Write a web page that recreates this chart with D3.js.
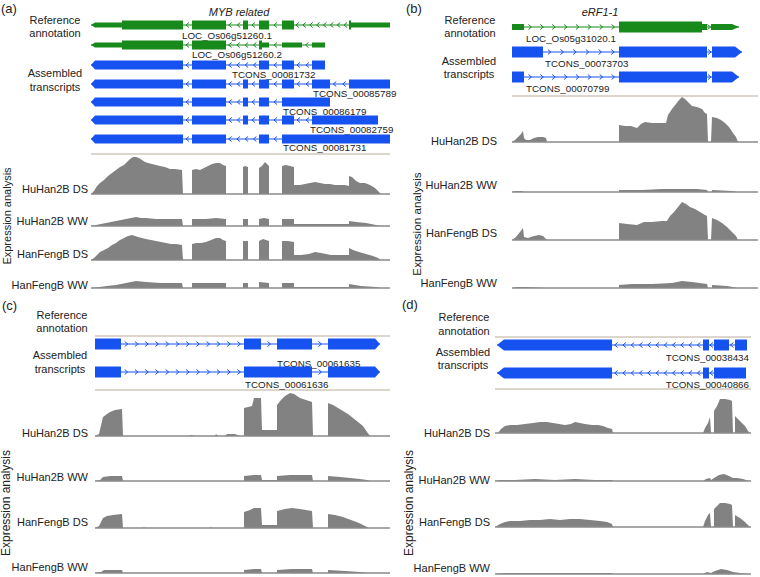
<!DOCTYPE html>
<html><head><meta charset="utf-8">
<script src="https://cdn.jsdelivr.net/npm/d3@7"></script>
<style>
body{margin:0;background:#fff}
svg{display:block}
text{font-family:"Liberation Sans",Arial,sans-serif;fill:#222}
</style>
</head><body>
<svg id="chart" width="760" height="577"></svg>
<script>
// ---------------- DATA ----------------
const panelLetters = ["(a)", "(b)", "(c)", "(d)"];
const geneTitles = ["MYB related", "eRF1-1", "", ""];
const trackLabels = ["HuHan2B DS", "HuHan2B WW", "HanFengB DS", "HanFengB WW"];
const refLabel = ["Reference", "annotation"];
const asmLabel = ["Assembled", "transcripts"];
const axisTitle = "Expression analysis";

// transcripts: exons as [start, end, kind] in relative genomic units
const transcriptsA = [
  {name: "LOC_Os06g51260.1", source: "ref", strand: -1, labelAt: 91,
   exons: [[0,31,"utr"],[31,92,"cds"],[101,135,"cds"],[152,157,"cds"],[168,178,"cds"],[191,203,"cds"],[258,260,"cds"],[260,299,"utr"]]},
  {name: "LOC_Os06g51260.2", source: "ref", strand: -1, labelAt: 101,
   exons: [[0,31,"utr"],[31,92,"cds"],[101,135,"cds"],[168,171,"cds"],[171,178,"utr"],[191,211,"utr"],[221,234,"utr"]]},
  {name: "TCONS_00081732", source: "asm", strand: -1, labelAt: 141,
   exons: [[0,92,"cds"],[101,135,"cds"],[168,178,"cds"],[191,203,"cds"],[221,234,"cds"]]},
  {name: "TCONS_00085789", source: "asm", strand: -1, labelAt: 222,
   exons: [[0,92,"cds"],[101,135,"cds"],[152,157,"cds"],[168,178,"cds"],[191,203,"cds"],[221,239,"cds"],[258,299,"cds"]]},
  {name: "TCONS_00086179", source: "asm", strand: -1, labelAt: 192,
   exons: [[0,92,"cds"],[101,135,"cds"],[152,157,"cds"],[168,178,"cds"],[191,239,"cds"]]},
  {name: "TCONS_00082759", source: "asm", strand: -1, labelAt: 219,
   exons: [[0,92,"cds"],[101,135,"cds"],[152,157,"cds"],[168,178,"cds"],[191,203,"cds"],[221,287,"cds"]]},
  {name: "TCONS_00081731", source: "asm", strand: -1, labelAt: 192,
   exons: [[0,92,"cds"],[101,135,"cds"],[168,178,"cds"],[191,299,"cds"]]}
];
const transcriptsB = [
  {name: "LOC_Os05g31020.1", source: "ref", strand: 1, labelAt: 14,
   exons: [[0,12,"utr"],[107,190,"cds"],[190,195,"utr"],[199,227,"utr"]]},
  {name: "TCONS_00073703", source: "asm", strand: 1, labelAt: 33,
   exons: [[0,31,"cds"],[107,195,"cds"],[200,230,"cds"]]},
  {name: "TCONS_00070799", source: "asm", strand: 1, labelAt: 14,
   exons: [[0,12,"cds"],[107,195,"cds"],[200,227,"cds"]]}
];
const transcriptsC = [
  {name: "TCONS_00061635", source: "asm", strand: 1, labelAt: 182,
   exons: [[0,26,"cds"],[149,166,"cds"],[182,217,"cds"],[233,285,"cds"]]},
  {name: "TCONS_00061636", source: "asm", strand: 1, labelAt: 150,
   exons: [[0,26,"cds"],[149,217,"cds"],[233,285,"cds"]]}
];
const transcriptsD = [
  {name: "TCONS_00038434", source: "asm", strand: -1, labelAt: 254,
   exons: [[2,117,"cds"],[208,214,"cds"],[219,234,"cds"],[240,252,"cds"]]},
  {name: "TCONS_00040866", source: "asm", strand: -1, labelAt: 254,
   exons: [[2,117,"cds"],[208,214,"cds"],[219,251,"cds"]]}
];

// coverage: [position, depth]
const covA_HuDS = [[0,0],[3,3],[6,8],[9,11],[13,14],[17,18],[21,21],[25,24],[29,27],[33,29],[36,32],[39,35],[42,37],[45,37],[48,36],[51,34],[54,32],[57,31],[61,30],[65,29],[69,28],[74,27],[79,25],[84,25],[91,24],[92,0],[101,0],[101,24],[105,25],[109,24],[113,26],[117,28],[121,30],[125,31],[129,31],[132,29],[135,28],[135,0],[152,0],[152,27],[154,28],[157,27],[157,0],[168,0],[168,26],[171,28],[174,32],[176,30],[178,28],[178,0],[191,0],[191,28],[195,29],[199,28],[203,27],[203,9],[209,9],[214,10],[219,11],[224,12],[229,11],[234,10],[239,10],[244,9],[249,9],[254,9],[258,8],[258,18],[261,17],[265,13],[269,11],[274,11],[279,9],[284,6],[288,2],[290,0]];
const covA_HuWW = [[0,0],[5,1],[10,2],[15,3],[20,4],[25,5],[30,6],[35,7],[40,8],[45,9],[50,8],[55,8],[65,7],[80,7],[91,7],[92,0],[101,0],[101,7],[115,7],[125,8],[135,7],[135,0],[152,0],[152,7],[157,7],[157,0],[168,0],[168,7],[173,8],[178,7],[178,0],[191,0],[191,7],[203,7],[203,2],[230,2],[258,2],[258,5],[265,4],[275,3],[285,1],[290,0]];
const covA_HfDS = [[0,0],[3,2],[6,5],[9,8],[13,10],[17,12],[21,15],[25,17],[29,20],[33,22],[37,24],[41,25],[44,24],[47,23],[51,22],[55,21],[60,20],[65,19],[70,18],[75,17],[80,16],[85,16],[91,15],[92,0],[101,0],[101,16],[105,17],[110,17],[115,18],[120,20],[125,22],[129,22],[132,20],[135,19],[135,0],[152,0],[152,19],[157,19],[157,0],[168,0],[168,19],[172,21],[175,20],[178,19],[178,0],[191,0],[191,19],[197,19],[203,18],[203,5],[210,5],[218,6],[224,8],[230,7],[240,5],[250,5],[258,5],[258,12],[262,10],[268,8],[275,6],[282,4],[287,2],[290,0]];
const covA_HfWW = [[0,0],[8,1],[16,2],[25,3],[35,5],[45,7],[55,6],[70,5],[91,5],[92,0],[101,0],[101,5],[135,5],[135,0],[152,0],[152,5],[157,5],[157,0],[168,0],[168,6],[178,5],[178,0],[191,0],[191,5],[203,5],[203,1],[258,1],[258,4],[270,2],[285,1],[290,0]];

const covB_HuDS = [[0,0],[3,2],[6,5],[9,8],[11,11],[12,4],[14,2],[18,2],[22,4],[26,5],[31,5],[34,4],[35,0],[107,0],[107,17],[113,16],[119,16],[125,14],[129,18],[133,20],[140,19],[148,19],[154,19],[156,27],[160,33],[164,38],[167,42],[170,45],[173,43],[176,40],[180,36],[185,35],[190,33],[193,29],[195,28],[196,0],[199,0],[200,25],[205,24],[209,22],[213,19],[217,15],[221,9],[224,5],[226,0]];
const covB_HuWW = [[0,0],[4,1],[10,1],[12,0],[35,0],[107,0],[107,2],[130,2],[150,3],[170,3],[185,3],[195,2],[196,0],[200,0],[200,2],[220,1],[226,0]];
const covB_HfDS = [[0,0],[4,3],[8,8],[11,12],[12,3],[16,2],[22,4],[27,5],[31,4],[35,0],[107,0],[107,17],[115,16],[125,15],[132,18],[140,18],[150,19],[155,19],[158,24],[162,28],[166,33],[170,38],[174,36],[178,33],[183,31],[188,28],[193,25],[195,24],[196,0],[199,0],[200,22],[205,20],[210,17],[215,13],[220,8],[224,4],[226,0]];
const covB_HfWW = [[0,0],[5,1],[12,1],[35,0],[107,0],[107,3],[120,4],[140,4],[160,5],[170,7],[180,6],[195,4],[196,0],[200,0],[200,3],[215,2],[226,0]];

const covC_HuDS = [[0,0],[4,2],[8,19],[12,22],[15,24],[20,26],[27,27],[28,0],[95,0],[96,1],[100,0],[120,0],[121,2],[123,0],[130,0],[132,2],[140,2],[145,0],[149,0],[149,28],[153,29],[157,30],[159,38],[166,38],[167,6],[182,6],[182,31],[186,36],[190,40],[195,43],[199,42],[205,38],[211,36],[217,34],[218,0],[233,0],[233,33],[238,31],[243,28],[248,25],[253,22],[258,18],[263,14],[268,10],[272,4],[275,0]];
const covC_HuWW = [[0,0],[5,1],[8,4],[15,5],[27,5],[28,0],[149,0],[149,5],[159,6],[166,6],[167,1],[182,1],[182,5],[195,6],[205,6],[217,6],[218,0],[233,0],[233,5],[245,4],[255,3],[265,2],[272,1],[275,0]];
const covC_HfDS = [[0,0],[4,2],[8,10],[12,12],[18,13],[27,14],[28,0],[48,0],[49,1],[50,0],[115,0],[116,1],[117,0],[149,0],[149,16],[155,18],[159,20],[166,20],[167,3],[182,3],[182,17],[190,19],[197,20],[205,19],[211,18],[217,17],[218,0],[233,0],[233,14],[240,13],[248,11],[256,8],[264,5],[270,2],[274,0]];
const covC_HfWW = [[0,0],[6,1],[9,3],[27,3],[28,0],[149,0],[149,3],[159,4],[166,4],[167,0],[182,0],[182,3],[197,4],[217,4],[218,0],[233,0],[233,3],[250,2],[265,1],[274,0]];

const covD_HuDS = [[0,0],[3,0],[6,4],[10,7],[15,8],[22,8],[30,9],[38,10],[45,11],[52,11],[58,10],[64,9],[70,8],[76,9],[80,11],[85,10],[90,9],[97,8],[103,8],[108,7],[113,5],[117,4],[118,0],[208,0],[210,5],[213,10],[215,16],[216,0],[219,0],[219,22],[222,27],[225,34],[230,34],[235,33],[237,32],[238,0],[240,0],[240,17],[245,12],[250,7],[253,2],[255,0]];
const covD_HuWW = [[0,0],[5,1],[20,1],[40,2],[60,1],[80,2],[100,1],[117,1],[118,0],[208,0],[211,2],[215,3],[216,1],[219,3],[224,6],[229,7],[234,5],[238,3],[242,3],[248,2],[254,0]];
const covD_HfDS = [[0,0],[5,3],[10,5],[15,6],[25,6],[35,7],[45,7],[55,8],[65,7],[75,8],[85,8],[95,7],[105,6],[112,5],[117,3],[118,0],[208,0],[210,6],[213,12],[215,14],[216,0],[219,0],[219,18],[222,21],[225,24],[230,24],[235,23],[237,22],[238,0],[240,0],[240,12],[245,9],[250,5],[253,2],[255,0]];
const covD_HfWW = [[0,0],[10,1],[60,1],[117,1],[118,0],[208,0],[212,2],[216,1],[220,3],[226,5],[232,4],[238,2],[245,1],[254,0]];

const transcriptSets = [transcriptsA, transcriptsB, transcriptsC, transcriptsD];
const coverageSets = [
  [covA_HuDS, covA_HuWW, covA_HfDS, covA_HfWW],
  [covB_HuDS, covB_HuWW, covB_HfDS, covB_HfWW],
  [covC_HuDS, covC_HuWW, covC_HfDS, covC_HfWW],
  [covD_HuDS, covD_HuWW, covD_HfDS, covD_HfWW]
];
const genomicSpans = [[0, 299], [0, 246], [0, 295], [0, 256]];
const depthDomain = [0, 50];

// ---------------- LAYOUT ----------------
const layouts = [
  {x: [91, 390], letter: [1, 8], title: [239, 12], ref: [55, 20, 33], asm: [55, 73, 87],
   rowY: [25, 45, 65, 84, 102, 120, 139], labY: [35, 54, 74, 93, 111, 129, 147], labAnchor: "start",
   cdsH: 9, utrH: 5, tip: 4, chev: 6.7, seps: [154],
   base: [194, 226, 260, 288], trackLabY: [189, 221, 254, 285], trackLabX: 88,
   expr: [11, 216, 11]},
  {x: [512, 758], letter: [406, 8], title: [600, 12], ref: [470, 20, 33], asm: [469, 61, 74],
   rowY: [27, 52, 77], labY: [38, 63, 88], labAnchor: "start",
   cdsH: 11, utrH: 6, tip: 7, chev: 11.7, seps: [96],
   base: [142, 192, 240, 288], trackLabY: [141, 185, 233, 283], trackLabX: 497,
   expr: [421, 224, 11.7]},
  {x: [95, 390], letter: [2, 305], title: [0, 0], ref: [62, 315, 328], asm: [60, 355, 369],
   rowY: [344, 372], labY: [363, 384], labAnchor: "start",
   cdsH: 11, utrH: 6, tip: 5, chev: 9.7, seps: [336, 390],
   base: [436, 481, 528, 573], trackLabY: [433, 477, 522, 567], trackLabX: 88,
   expr: [10, 503, 12]},
  {x: [495, 751], letter: [402, 304], title: [0, 0], ref: [464, 317, 331], asm: [463, 352, 365],
   rowY: [345, 373], labY: [357, 384], labAnchor: "end",
   cdsH: 11, utrH: 6, tip: 7, chev: 7.7, seps: [337, 389],
   base: [433, 481, 527, 574], trackLabY: [433, 480, 522, 568], trackLabX: 490,
   expr: [413, 503, 12]}
];

const colors = {ref: "#178a1b", asm: "#1652f0", cov: "#828282", covLine: "#8a8a8a", sep: "#b8ac98"};

// ---------------- DRAW ----------------
const svg = d3.select("#chart");

function exonPath(xa, xb, y, h, tipL, tipR, tip) {
  const t = h / 2;
  tip = Math.min(tip, (xb - xa));
  if (tipL) return `M${xa},${y}L${xa + tip},${y - t}L${xb},${y - t}L${xb},${y + t}L${xa + tip},${y + t}Z`;
  if (tipR) return `M${xa},${y - t}L${xb - tip},${y - t}L${xb},${y}L${xb - tip},${y + t}L${xa},${y + t}Z`;
  return `M${xa},${y - t}H${xb}V${y + t}H${xa}Z`;
}

layouts.forEach((L, pi) => {
  const g = svg.append("g");
  const x = d3.scaleLinear().domain(genomicSpans[pi]).range(L.x);
  const yDepth = d3.scaleLinear().domain(depthDomain).range([0, depthDomain[1]]);

  g.append("text").attr("x", L.letter[0]).attr("y", L.letter[1]).attr("dominant-baseline", "central")
    .style("font-size", "13px").text(panelLetters[pi]);
  if (geneTitles[pi]) {
    g.append("text").attr("x", L.title[0]).attr("y", L.title[1]).attr("dominant-baseline", "central")
      .attr("text-anchor", "middle").style("font-size", "11px").style("font-style", "italic").text(geneTitles[pi]);
  }
  [[refLabel, L.ref], [asmLabel, L.asm]].forEach(([lab, p]) => {
    lab.forEach((s, i) => g.append("text").attr("x", p[0]).attr("y", p[1 + i])
      .attr("dominant-baseline", "central").attr("text-anchor", "middle").style("font-size", "11px").text(s));
  });

  L.seps.forEach(sy => g.append("line").attr("x1", L.x[0]).attr("x2", L.x[1]).attr("y1", sy).attr("y2", sy)
    .attr("stroke", colors.sep).attr("stroke-width", 1));

  // transcripts
  transcriptSets[pi].forEach((t, ri) => {
    const y = L.rowY[ri];
    const col = t.source === "ref" ? colors.ref : colors.asm;
    const tg = g.append("g");
    const ex = t.exons;
    const first = ex[0][0], last = ex[ex.length - 1][1];
    tg.append("line").attr("x1", x(first)).attr("x2", x(last)).attr("y1", y).attr("y2", y)
      .attr("stroke", col).attr("stroke-width", 1);
    for (let i = 0; i < ex.length - 1; i++) {
      const a = x(ex[i][1]), b = x(ex[i + 1][0]);
      if (b - a < 3) continue;
      const n = Math.max(1, Math.floor((b - a) / L.chev));
      const step = (b - a) / n;
      for (let k = 0; k < n; k++) {
        const cx = a + step * (k + 0.5);
        const d = t.strand < 0
          ? `M${cx + 1.5},${y - 2.5}L${cx - 1.5},${y}L${cx + 1.5},${y + 2.5}`
          : `M${cx - 1.5},${y - 2.5}L${cx + 1.5},${y}L${cx - 1.5},${y + 2.5}`;
        tg.append("path").attr("d", d).attr("fill", "none").attr("stroke", col).attr("stroke-width", 1);
      }
    }
    ex.forEach((e, i) => {
      const h = e[2] === "cds" ? L.cdsH : L.utrH;
      const tipL = t.strand < 0 && i === 0;
      const tipR = t.strand > 0 && i === ex.length - 1;
      tg.append("path").attr("d", exonPath(x(e[0]), x(e[1]), y, h, tipL, tipR, L.tip)).attr("fill", col);
    });
    g.append("text").attr("x", x(t.labelAt)).attr("y", L.labY[ri]).attr("dominant-baseline", "central")
      .attr("text-anchor", L.labAnchor).style("font-size", "9.8px").text(t.name);
  });

  // coverage tracks
  coverageSets[pi].forEach((cov, ti) => {
    const b = L.base[ti];
    const area = d3.area().x(d => x(d[0])).y0(b).y1(d => b - yDepth(d[1]));
    g.append("path").attr("d", area(cov)).attr("fill", colors.cov);
    g.append("line").attr("x1", L.x[0]).attr("x2", L.x[1]).attr("y1", b).attr("y2", b)
      .attr("stroke", colors.covLine).attr("stroke-width", 1.5);
    g.append("text").attr("x", L.trackLabX).attr("y", L.trackLabY[ti]).attr("dominant-baseline", "central")
      .attr("text-anchor", "end").style("font-size", "11px").text(trackLabels[ti]);
  });

  g.append("text").attr("transform", `translate(${L.expr[0]},${L.expr[1]}) rotate(-90)`)
    .attr("text-anchor", "middle").style("font-size", L.expr[2] + "px").text(axisTitle);
});
</script>
</body></html>
